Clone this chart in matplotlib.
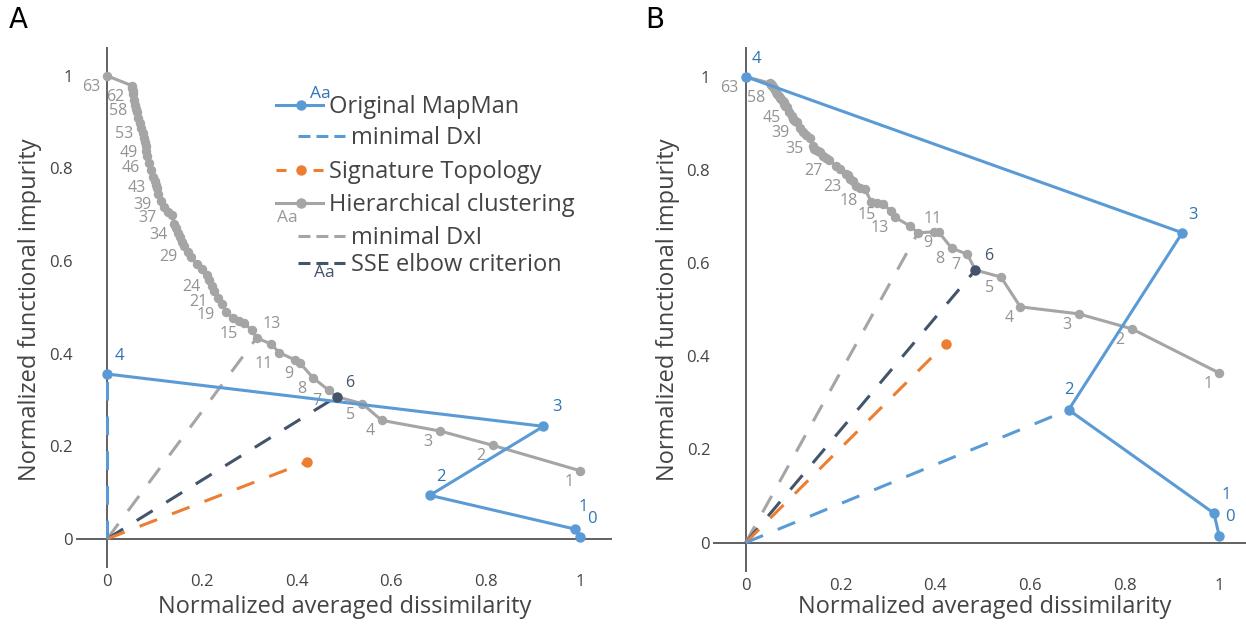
import matplotlib.pyplot as plt

plt.rcParams['font.family'] = ['Open Sans', 'DejaVu Sans']
plt.rcParams['lines.scale_dashes'] = False

W, H = 1246, 624

# hierarchical clustering: number of clusters, dissimilarity, impurity in A and B
hc_k = list(range(63, 0, -1))
hc_x = [0.000, 0.052, 0.053, 0.054, 0.055, 0.057, 0.059, 0.061, 0.063, 0.066,
        0.070, 0.072, 0.075, 0.078, 0.080, 0.081, 0.082, 0.084, 0.088, 0.092,
        0.097, 0.100, 0.103, 0.105, 0.108, 0.114, 0.120, 0.128, 0.136, 0.142,
        0.145, 0.149, 0.153, 0.158, 0.163, 0.170, 0.177, 0.190, 0.200, 0.211,
        0.216, 0.221, 0.226, 0.234, 0.242, 0.252, 0.265, 0.278, 0.290, 0.306,
        0.316, 0.346, 0.364, 0.398, 0.408, 0.435, 0.468, 0.485, 0.539, 0.580,
        0.703, 0.815, 1.000]
hc_yA = [1.000, 0.979, 0.974, 0.968, 0.960, 0.948, 0.938, 0.929, 0.921, 0.910,
         0.898, 0.888, 0.877, 0.866, 0.857, 0.848, 0.838, 0.826, 0.812, 0.797,
         0.782, 0.773, 0.765, 0.757, 0.745, 0.730, 0.716, 0.707, 0.700, 0.680,
         0.672, 0.661, 0.651, 0.642, 0.633, 0.620, 0.608, 0.593, 0.582, 0.569,
         0.558, 0.546, 0.535, 0.521, 0.508, 0.489, 0.478, 0.470, 0.466, 0.450,
         0.434, 0.421, 0.402, 0.386, 0.379, 0.348, 0.321, 0.307, 0.292, 0.256,
         0.233, 0.202, 0.147]
hc_yB = [1.000, 0.986, 0.984, 0.983, 0.982, 0.978, 0.975, 0.971, 0.967, 0.963,
         0.958, 0.955, 0.951, 0.948, 0.945, 0.942, 0.939, 0.937, 0.935, 0.925,
         0.915, 0.910, 0.907, 0.905, 0.902, 0.890, 0.882, 0.875, 0.868, 0.852,
         0.845, 0.842, 0.840, 0.838, 0.830, 0.826, 0.822, 0.809, 0.802, 0.792,
         0.788, 0.781, 0.776, 0.765, 0.762, 0.758, 0.732, 0.728, 0.727, 0.712,
         0.698, 0.680, 0.665, 0.667, 0.666, 0.632, 0.619, 0.585, 0.570, 0.506,
         0.491, 0.459, 0.364]
hc_lab_A = [63, 62, 58, 53, 49, 46, 43, 39, 37, 34, 29, 24, 21, 19, 15, 13, 11, 9, 8, 7, 5, 4, 3, 2, 1]
hc_lab_B = [63, 58, 45, 39, 35, 27, 23, 18, 15, 13, 11, 9, 8, 7, 5, 4, 3, 2, 1]
hc_min_A, hc_min_B = 13, 11
elbow_k = 6

# original MapMan
mm_k = [4, 3, 2, 1, 0]
mm_x = [0.000, 0.922, 0.682, 0.989, 1.000]
mm_yA = [0.356, 0.243, 0.094, 0.021, 0.004]
mm_yB = [1.000, 0.665, 0.285, 0.063, 0.014]
mm_min_A, mm_min_B = 4, 2

# signature topology
sig_x = 0.422
sig_yA = 0.166
sig_yB = 0.427

BLUE, ORANGE, GRAY, DARK = '#5B9BD5', '#ED7D31', '#A5A5A5', '#44546A'
BLUE_T, GRAY_T, TXT = '#2E75B6', '#939393', '#444444'
DASH = (13.5, 11.5)

fig = plt.figure(figsize=(W / 100, H / 100), dpi=100)


def px(x, y):
    return x / W, 1 - y / H


def panel(rect, hc_y, mm_y, sig_y, hc_min, mm_min, hc_lab, mm_offsets, xlim, ylim):
    ax = fig.add_axes(rect)
    ax.set_xlim(*xlim)
    ax.set_ylim(*ylim)
    for s in ax.spines.values():
        s.set_visible(False)
    ax.axhline(0, color='#555555', lw=1.3, zorder=1)
    ax.axvline(0, color='#555555', lw=1.3, zorder=1)
    ax.set_xticks([0, 0.2, 0.4, 0.6, 0.8, 1])
    ax.set_xticklabels(['0', '0.2', '0.4', '0.6', '0.8', '1'])
    ax.set_yticks([0, 0.2, 0.4, 0.6, 0.8, 1])
    ax.set_yticklabels(['0', '0.2', '0.4', '0.6', '0.8', '1'])
    ax.tick_params(length=0, labelsize=12, colors=TXT)
    ax.tick_params(axis='x', pad=4)
    ax.tick_params(axis='y', pad=2)

    i_min = hc_k.index(hc_min)
    i_elb = hc_k.index(elbow_k)
    j_min = mm_k.index(mm_min)

    # dashed lines from the origin
    ax.plot([0, hc_x[i_min]], [0, hc_y[i_min]], color=GRAY, lw=2.2, dashes=DASH, zorder=2)
    ax.plot([0, hc_x[i_elb]], [0, hc_y[i_elb]], color=DARK, lw=2.2, dashes=DASH, zorder=2)
    ax.plot([0, sig_x], [0, sig_y], color=ORANGE, lw=2.2, dashes=DASH, zorder=2)
    ax.plot([sig_x], [sig_y], 'o', color=ORANGE, ms=6.5, zorder=3)
    ax.plot([0, mm_x[j_min]], [0, mm_y[j_min]], color=BLUE, lw=2.2, dashes=DASH, zorder=2)

    # hierarchical clustering
    ax.plot(hc_x, hc_y, '-o', color=GRAY, lw=2.2, ms=5.8, zorder=3)
    for k in hc_lab:
        i = hc_k.index(k)
        if k == hc_min:
            ax.annotate(str(k), (hc_x[i], hc_y[i]), xytext=(4, 10), textcoords='offset points',
                        ha='left', va='center', fontsize=11.5, color=GRAY_T)
        else:
            ax.annotate(str(k), (hc_x[i], hc_y[i]), xytext=(-5, -8), textcoords='offset points',
                        ha='right', va='center', fontsize=11.5, color=GRAY_T)
    ax.plot([hc_x[i_elb]], [hc_y[i_elb]], 'o', color=DARK, ms=6.5, zorder=5)
    ax.annotate(str(elbow_k), (hc_x[i_elb], hc_y[i_elb]), xytext=(6, 10), textcoords='offset points',
                ha='left', va='center', fontsize=11.5, color=DARK)

    # original MapMan
    ax.plot(mm_x, mm_y, '-o', color=BLUE, lw=2.2, ms=6.5, zorder=4)
    for k, xx, yy, off in zip(mm_k, mm_x, mm_y, mm_offsets):
        ax.annotate(str(k), (xx, yy), xytext=off, textcoords='offset points',
                    ha='center', va='center', fontsize=12, color=BLUE_T)
    return ax


panel([75.5 / W, 1 - 568 / H, 536.5 / W, (568 - 46.7) / H], hc_yA, mm_yA, sig_yA,
      hc_min_A, mm_min_A, hc_lab_A,
      [(8.5, 13), (9.5, 14), (8, 13.5), (6, 16), (8.5, 13)],
      (-0.067, 1.067), (-0.063, 1.063))
panel([713 / W, 1 - 572 / H, 537 / W, (572 - 47.3) / H], hc_yB, mm_yB, sig_yB,
      hc_min_B, mm_min_B, hc_lab_B,
      [(8, 12.5), (8, 13), (0.5, 14), (8.5, 13), (8, 13.5)],
      (-0.069, 1.065), (-0.063, 1.063))

# legend (panel A)
leg_rows = [
    ('Original MapMan', BLUE, 'solid', True, 0, 105),
    ('minimal DxI', BLUE, 'short', False, 22, 136),
    ('Signature Topology', ORANGE, 'split', True, 0, 170),
    ('Hierarchical clustering', GRAY, 'solid', True, 0, 203),
    ('minimal DxI', GRAY, 'short', False, 22, 236),
    ('SSE elbow criterion', DARK, 'short', False, 22, 263),
]
for label, col, style, mark, ind, y in leg_rows:
    x0, x1 = 276 + ind, 323 + ind
    xs, ys = zip(px(x0, y), px(x1, y))
    if style == 'solid':
        fig.add_artist(plt.Line2D(xs, ys, color=col, lw=2.2, transform=fig.transFigure))
    elif style == 'short':
        fig.add_artist(plt.Line2D(xs, ys, color=col, lw=2.2, dashes=(8.6, 4.3), transform=fig.transFigure))
    else:
        fig.add_artist(plt.Line2D(xs, ys, color=col, lw=2.2, dashes=(7.2, 19.5), transform=fig.transFigure))
    if mark:
        mx, my = px(300.5, y)
        fig.add_artist(plt.Line2D([mx], [my], marker='o', ms=6.5, color=col, transform=fig.transFigure))
    tx, ty = px(x1 + 6, y + 2)
    fig.text(tx, ty, label, fontsize=17, color=TXT, ha='left', va='center')

for txt, col, x, y in [('Aa', BLUE_T, 320, 94), ('Aa', '#999999', 287, 218), ('Aa', DARK, 324, 273)]:
    fig.text(*px(x, y), txt, fontsize=12.5, color=col, ha='center', va='center')

# axis titles and panel letters
for cx in (30, 668):
    fig.text(*px(cx, 310), 'Normalized functional impurity', rotation=90, fontsize=17,
             color=TXT, ha='center', va='center')
for cx in (345, 985):
    fig.text(*px(cx, 607), 'Normalized averaged dissimilarity', fontsize=17,
             color=TXT, ha='center', va='center')
fig.text(*px(18, 20), 'A', fontsize=20, color='black', ha='center', va='center', family='DejaVu Sans')
fig.text(*px(655, 20), 'B', fontsize=20, color='black', ha='center', va='center', family='DejaVu Sans')

fig.savefig('out.png', dpi=100)
